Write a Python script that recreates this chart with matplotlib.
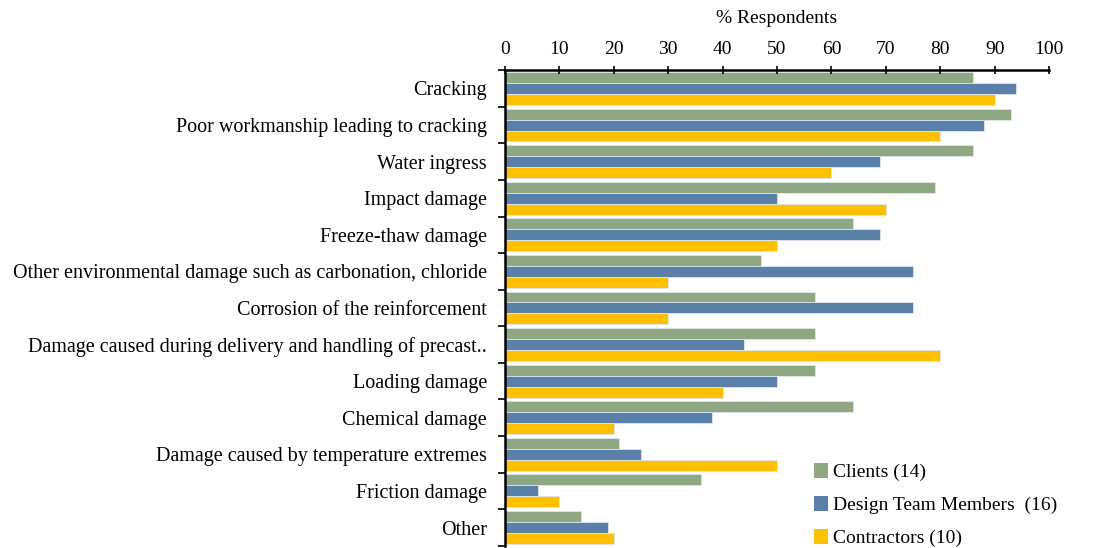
import numpy as np
import matplotlib.pyplot as plt
from matplotlib.patches import Patch

categories = ['Cracking', 'Poor workmanship leading to cracking', 'Water ingress',
              'Impact damage', 'Freeze-thaw damage',
              'Other environmental damage such as carbonation, chloride',
              'Corrosion of the reinforcement',
              'Damage caused during delivery and handling of precast..',
              'Loading damage', 'Chemical damage',
              'Damage caused by temperature extremes', 'Friction damage', 'Other']
clients = [86, 93, 86, 79, 64, 47, 57, 57, 57, 64, 21, 36, 14]
design = [94, 88, 69, 50, 69, 75, 75, 44, 50, 38, 25, 6, 19]
contractors = [90, 80, 60, 70, 50, 30, 30, 80, 40, 20, 50, 10, 20]
series_names = ['Clients (14)', 'Design Team Members  (16)', 'Contractors (10)']
colors = ['#8FA882', '#5A7FA8', '#FFC000']

plt.rcParams['font.family'] = ['Liberation Serif', 'DejaVu Serif']
fs = 14

fig = plt.figure(figsize=(11.14, 5.48), dpi=100)
ax = fig.add_axes([0.4533, 0.004, 0.4884, 0.868])

y = np.arange(len(categories))
h = 0.3
for i, (vals, c) in enumerate(zip([clients, design, contractors], colors)):
    ax.barh(y + (i - 1) * h, vals, height=h, color=c, edgecolor='#dde6ee', linewidth=0.6)

ax.set_xlim(0, 100)
ax.set_ylim(len(categories) - 0.5, -0.5)
ax.xaxis.tick_top()
ax.xaxis.set_label_position('top')
ax.set_xticks(range(0, 101, 10))
ax.set_xlabel('% Respondents', fontsize=fs, labelpad=13)
ax.tick_params(axis='x', labelsize=fs, direction='inout', length=6, width=1.2, pad=6)

ax.set_yticks(y)
ax.set_yticklabels(categories, fontsize=14.5)
ax.set_yticks(np.arange(len(categories) + 1) - 0.5, minor=True)
ax.tick_params(axis='y', which='major', length=0, pad=13)
ax.tick_params(axis='y', which='minor', length=5, width=1.2, direction='out')

for s in ['right', 'bottom']:
    ax.spines[s].set_visible(False)
ax.spines['top'].set_linewidth(1.8)
ax.spines['left'].set_linewidth(1.8)

handles = [Patch(facecolor=c) for c in colors]
fig.legend(handles, series_names, loc='lower left', bbox_to_anchor=(0.715, -0.03),
           frameon=False, fontsize=fs, handlelength=0.7, handleheight=0.8,
           handletextpad=0.3, labelspacing=0.75)

fig.savefig('out.png', dpi=100)
